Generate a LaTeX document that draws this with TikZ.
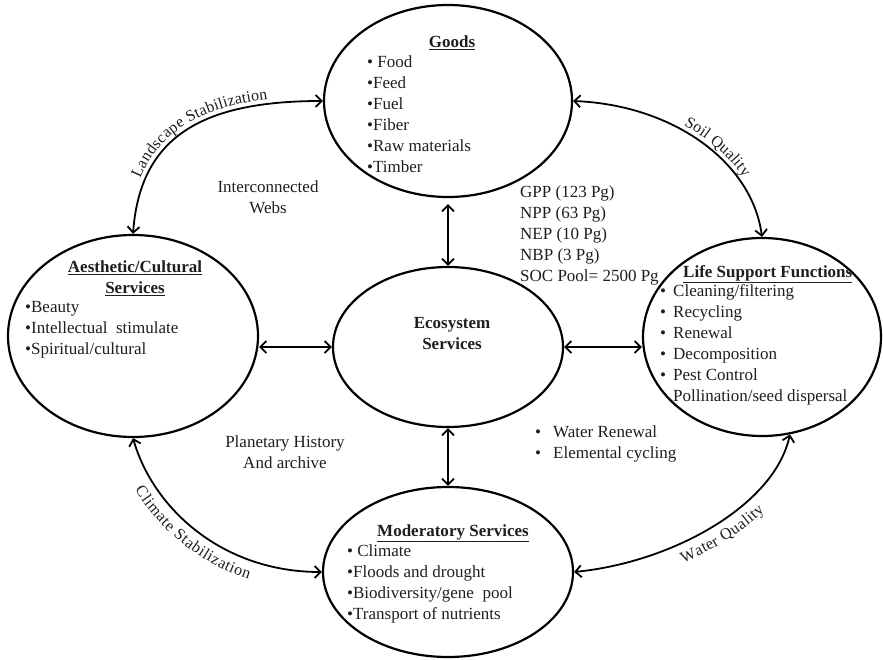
\documentclass[tikz,border=0pt]{standalone}
\usepackage{fontspec}
\setmainfont{Liberation Serif}
\usetikzlibrary{shapes.geometric,arrows.meta,decorations.text}
\definecolor{ink}{RGB}{30,30,30}
\newcommand{\lbl}{\fontsize{17bp}{21bp}\selectfont}
\newcommand{\arclbl}{\fontsize{16bp}{19bp}\selectfont}
\newcommand{\blt}[1]{\makebox[#1][l]{•}}
\newcommand{\ttl}[1]{\underline{\textbf{#1}}}
\begin{document}
\begin{tikzpicture}[x=1bp,y=-1bp,
  bubble/.style={draw=black, line width=2.2bp, ellipse, inner sep=0pt},
  txt/.style={font=\lbl, text=ink, inner sep=0pt},
  listtxt/.style={txt, align=left, anchor=north west},
  ctxt/.style={txt, align=center, anchor=north},
  link/.style={draw=black, line width=1.8bp, {Straight Barb[length=6bp,width=12bp]}-{Straight Barb[length=6bp,width=12bp]}},
  pathlabel/.style n args={3}{postaction={decorate, decoration={text along path,
      text align={#3}, raise=#2, text color=ink, text={|\arclbl|#1}}}}
]
\useasboundingbox (0,0) rectangle (883,660);

% the five service groups
\node[bubble, minimum width=248bp, minimum height=192bp] (goods) at (448,101) {};
\node[bubble, minimum width=250bp, minimum height=202bp] (aes)   at (133,336) {};
\node[bubble, minimum width=230bp, minimum height=160bp] (eco)   at (448,347) {};
\node[bubble, minimum width=238bp, minimum height=198bp] (life)  at (762,337) {};
\node[bubble, minimum width=250bp, minimum height=170bp] (mod)   at (448,572) {};

% texts inside the groups
\node[txt, anchor=base] (goodsT) at (452,48) {\ttl{Goods}};
\node[listtxt] (goodsL) at (367,56) {• Food\\•Feed\\•Fuel\\•Fiber\\•Raw materials\\•Timber};

\node[ctxt] (aesT) at (135,261) {\ttl{Aesthetic/Cultural}\\\ttl{Services}};
\node[listtxt] (aesL) at (25,301) {•Beauty\\•Intellectual\ \ stimulate\\•Spiritual/cultural};

\node[ctxt, font=\lbl\bfseries] (ecoT) at (452,317) {Ecosystem\\Services};

\node[txt, anchor=base west] (lifeT) at (683,277) {\ttl{Life Support Functions}};
\node[listtxt] (lifeL) at (660,284) {\blt{13bp}Cleaning/filtering\\\blt{13bp}Recycling\\\blt{13bp}Renewal\\\blt{13bp}Decomposition\\\blt{13bp}Pest Control\\\hspace*{13bp}Pollination/seed dispersal};

\node[txt, anchor=base] (modT) at (453,536) {\ttl{Moderatory Services}};
\node[listtxt] (modL) at (347,544) {• Climate\\•Floods and drought\\•Biodiversity/gene\ \ pool\\•Transport of nutrients};

% free-standing notes
\node[listtxt] (pools) at (520,186) {GPP (123 Pg)\\NPP (63 Pg)\\NEP (10 Pg)\\NBP (3 Pg)\\SOC Pool= 2500 Pg};
\node[ctxt] (webs) at (268,181) {Interconnected\\Webs};
\node[ctxt] (history) at (285,436) {Planetary History\\And archive};
\node[listtxt] (cycles) at (535,426) {\blt{18bp}Water Renewal\\\blt{18bp}Elemental cycling};

% straight links to the centre
\draw[link, shorten <=6bp] (goods.south) -- (eco.north);
\draw[link] (eco.south) -- (mod.north);
\draw[link] (aes.east |- eco.west) -- (eco.west);
\draw[link] (eco.east) -- (life.west |- eco.east);

% curved links around the outside
\draw[link, pathlabel={Landscape Stabilization}{5bp}{center}]
  (aes.north) .. controls +(7,-95) and +(-124,0) .. (goods.west);
\draw[link, pathlabel={Soil Quality}{5bp}{left, left indent=113bp}]
  (goods.east) .. controls +(100,4) and +(-10,-75) .. (life.north);
\draw[link, pathlabel={Climate Stabilization}{-19bp}{left, left indent=45bp}]
  (aes.south) .. controls +(20,70) and +(-100,0) .. (mod.west);
\draw[link, pathlabel={Water Quality}{-19bp}{left, left indent=105bp}]
  (mod.east) .. controls +(100,-10) and +(-15,70) .. (life.-74);
\end{tikzpicture}
\end{document}
